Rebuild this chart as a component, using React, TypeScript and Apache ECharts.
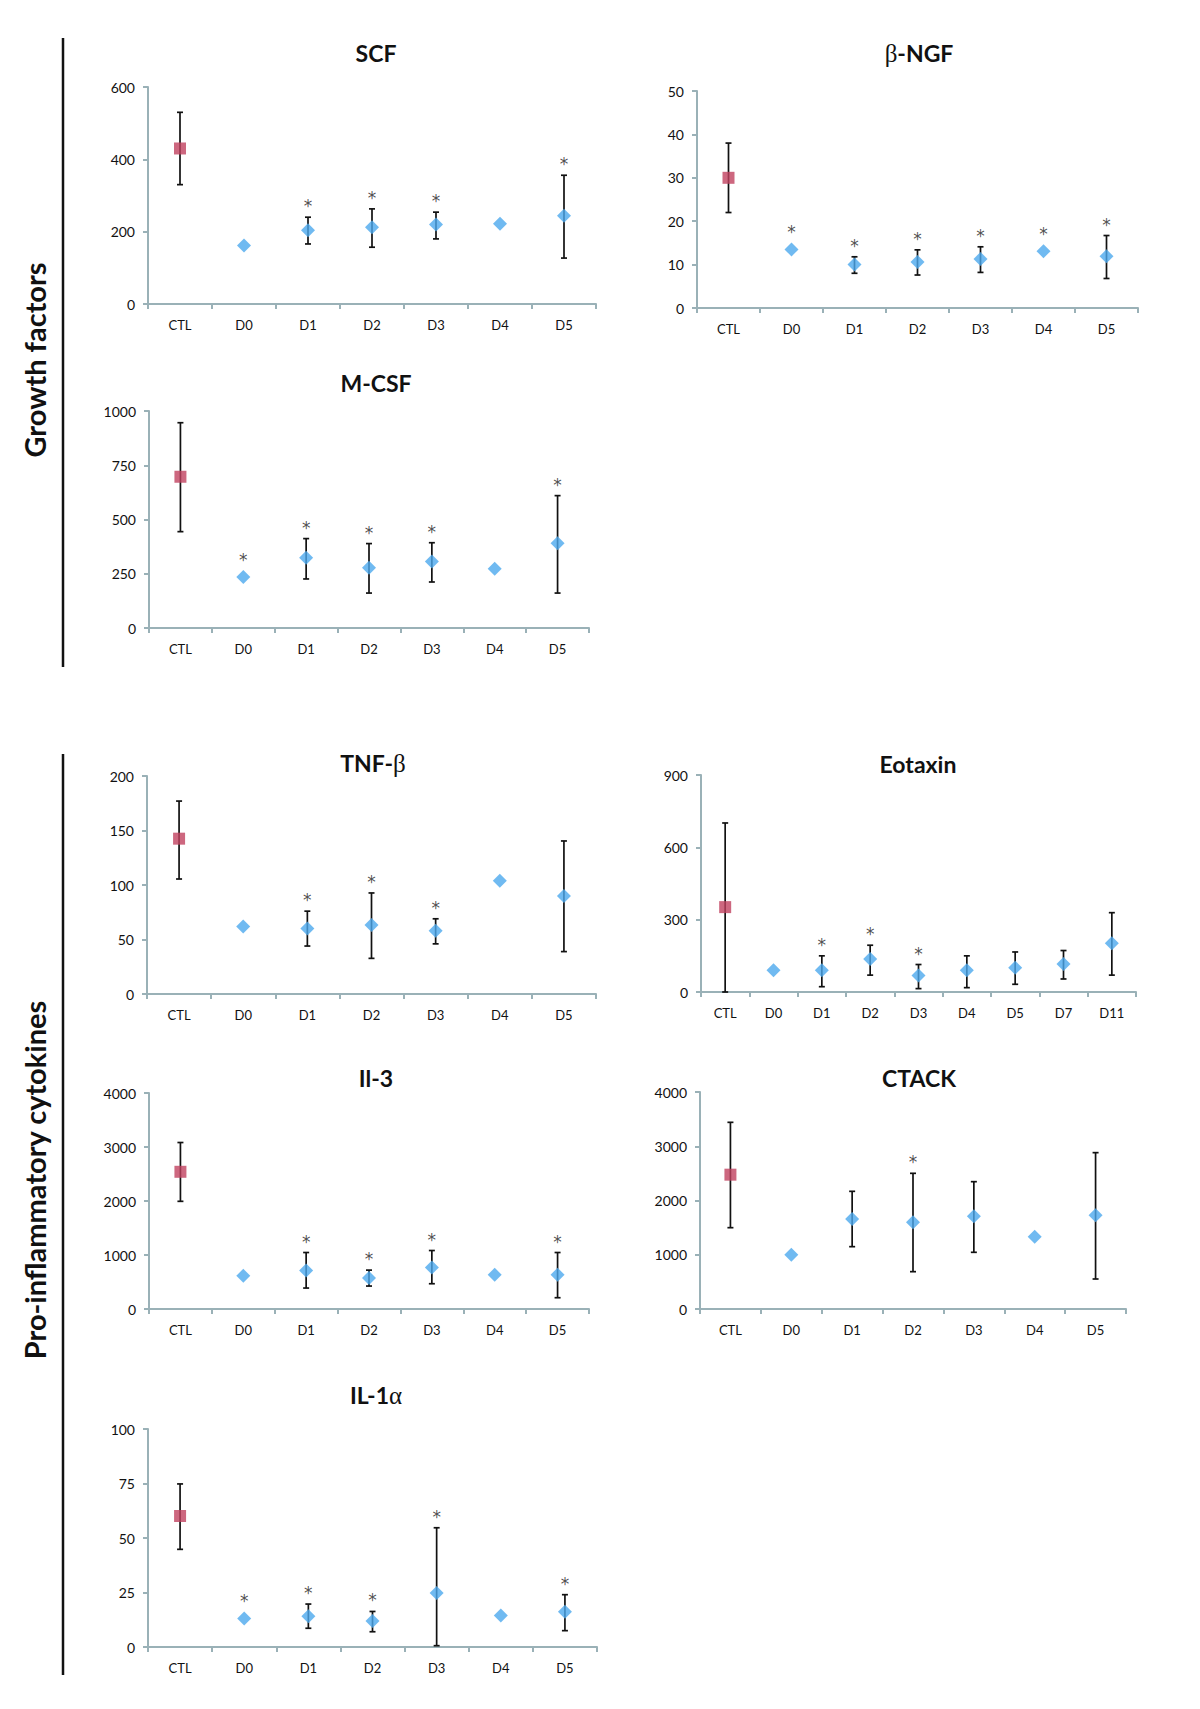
import React, { useEffect, useRef } from "react";
import * as echarts from "echarts";

// ---------- DATA ----------
const dayCategories7 = ["CTL", "D0", "D1", "D2", "D3", "D4", "D5"];
const eotaxinCategories = ["CTL", "D0", "D1", "D2", "D3", "D4", "D5", "D7", "D11"];

const scfMeans = [430, 162, 204, 212, 220, 222, 244];
const scfUpper = [530, null, 240, 263, 254, null, 356];
const scfLower = [330, null, 166, 157, 180, null, 127];
const scfStars = [false, false, true, true, true, false, true];

const ngfMeans = [30, 13.5, 10.0, 10.6, 11.3, 13.1, 11.9];
const ngfUpper = [38, null, 11.8, 13.4, 14.1, null, 16.7];
const ngfLower = [22, null, 8.0, 7.6, 8.2, null, 6.8];
const ngfStars = [false, true, true, true, true, true, true];

const mcsfMeans = [697, 235, 324, 278, 306, 273, 390];
const mcsfUpper = [946, null, 412, 389, 393, null, 610];
const mcsfLower = [444, null, 226, 161, 212, null, 161];
const mcsfStars = [false, true, true, true, true, false, true];

const tnfMeans = [142.5, 62, 60, 63.3, 58, 104, 90];
const tnfUpper = [177, null, 76, 92.7, 69, null, 140.4];
const tnfLower = [105.5, null, 44, 32.7, 46, null, 38.9];
const tnfStars = [false, false, true, true, true, false, false];

const eotaxinMeans = [352, 90, 90, 137, 68, 90, 101, 116, 202];
const eotaxinUpper = [701, null, 150, 194, 114, 150, 166, 172, 329];
const eotaxinLower = [0, null, 22, 70, 14, 18, 32, 54, 70];
const eotaxinStars = [false, false, true, true, true, false, false, false, false];

const il3Means = [2541, 615, 714, 572, 769, 634, 634];
const il3Upper = [3083, null, 1046, 720, 1083, null, 1046];
const il3Lower = [1994, null, 388, 425, 468, null, 209];
const il3Stars = [false, false, true, true, true, false, true];

const ctackMeans = [2476, 1000, 1660, 1598, 1708, 1333, 1726];
const ctackUpper = [3441, null, 2169, 2501, 2347, null, 2882];
const ctackLower = [1499, null, 1149, 688, 1045, null, 553];
const ctackStars = [false, false, false, true, false, false, false];

const il1aMeans = [60.1, 13.1, 14.1, 11.9, 24.8, 14.5, 16.2];
const il1aUpper = [74.8, null, 19.7, 16.3, 54.7, null, 24.0];
const il1aLower = [44.8, null, 8.6, 7.0, 0.6, null, 7.5];
const il1aStars = [false, true, true, true, true, false, true];

// axis ranges: [max, interval]
const scfAxis = [600, 200];
const ngfAxis = [50, 10];
const mcsfAxis = [1000, 250];
const tnfAxis = [200, 50];
const eotaxinAxis = [900, 300];
const il3Axis = [4000, 1000];
const ctackAxis = [4000, 1000];
const il1aAxis = [100, 25];

// ---------- STYLE / LAYOUT ----------
const AXIS_COLOR = "#9AB1B7";
const CTL_COLOR = "#C0415F";
const DAY_COLOR = "#4CA9EE";
const FONT = "Lato";
const GREEK_FONT = "Liberation Serif";

type Panel = {
  titleText: string;
  cats: string[];
  means: number[];
  upper: (number | null)[];
  lower: (number | null)[];
  stars: boolean[];
  axis: number[];
  box: { left: number; top: number; width: number; height: number };
  titlePos: [number, number];
};

const panels: Panel[] = [
  { titleText: "{b|SCF}", cats: dayCategories7, means: scfMeans, upper: scfUpper, lower: scfLower, stars: scfStars, axis: scfAxis,
    box: { left: 148, top: 87, width: 448, height: 217 }, titlePos: [376, 53] },
  { titleText: "{g|β}{b|-NGF}", cats: dayCategories7, means: ngfMeans, upper: ngfUpper, lower: ngfLower, stars: ngfStars, axis: ngfAxis,
    box: { left: 697, top: 91, width: 441, height: 217 }, titlePos: [919, 53] },
  { titleText: "{b|M-CSF}", cats: dayCategories7, means: mcsfMeans, upper: mcsfUpper, lower: mcsfLower, stars: mcsfStars, axis: mcsfAxis,
    box: { left: 149, top: 411, width: 440, height: 217 }, titlePos: [376, 383] },
  { titleText: "{b|TNF-}{g|β}", cats: dayCategories7, means: tnfMeans, upper: tnfUpper, lower: tnfLower, stars: tnfStars, axis: tnfAxis,
    box: { left: 147, top: 776, width: 449, height: 218 }, titlePos: [373, 763] },
  { titleText: "{b|Eotaxin}", cats: eotaxinCategories, means: eotaxinMeans, upper: eotaxinUpper, lower: eotaxinLower, stars: eotaxinStars, axis: eotaxinAxis,
    box: { left: 701, top: 775, width: 435, height: 217 }, titlePos: [918, 764] },
  { titleText: "{b|Il-3}", cats: dayCategories7, means: il3Means, upper: il3Upper, lower: il3Lower, stars: il3Stars, axis: il3Axis,
    box: { left: 149, top: 1093, width: 440, height: 216 }, titlePos: [376, 1078] },
  { titleText: "{b|CTACK}", cats: dayCategories7, means: ctackMeans, upper: ctackUpper, lower: ctackLower, stars: ctackStars, axis: ctackAxis,
    box: { left: 700, top: 1092, width: 426, height: 217 }, titlePos: [919, 1078] },
  { titleText: "{b|IL-1}{g|α}", cats: dayCategories7, means: il1aMeans, upper: il1aUpper, lower: il1aLower, stars: il1aStars, axis: il1aAxis,
    box: { left: 148, top: 1429, width: 449, height: 218 }, titlePos: [376, 1395] },
];

function buildOption() {
  const grid: any[] = [];
  const xAxis: any[] = [];
  const yAxis: any[] = [];
  const series: any[] = [];
  const graphic: any[] = [];

  panels.forEach((p, i) => {
    grid.push({ ...p.box });
    xAxis.push({
      type: "category",
      gridIndex: i,
      data: p.cats,
      boundaryGap: true,
      axisLine: { show: true, lineStyle: { color: AXIS_COLOR, width: 2 } },
      axisTick: { show: true, length: 5, lineStyle: { color: AXIS_COLOR, width: 2 } },
      axisLabel: { color: "#111", fontSize: 13, fontFamily: FONT, margin: 14, interval: 0 },
      splitLine: { show: false },
    });
    yAxis.push({
      type: "value",
      gridIndex: i,
      min: 0,
      max: p.axis[0],
      interval: p.axis[1],
      axisLine: { show: true, lineStyle: { color: AXIS_COLOR, width: 2 } },
      axisTick: { show: true, length: 5, lineStyle: { color: AXIS_COLOR, width: 2 } },
      axisLabel: {
        color: "#111",
        fontSize: 14,
        fontFamily: FONT,
        margin: 13,
        formatter: (v: number) => String(v),
      },
      splitLine: { show: false },
    });

    const errData: any[] = [];
    p.means.forEach((_, k) => {
      if (p.upper[k] != null && p.lower[k] != null) errData.push([k, p.upper[k], p.lower[k]]);
    });
    series.push({
      type: "custom",
      xAxisIndex: i,
      yAxisIndex: i,
      z: 2,
      encode: { x: 0, y: [1, 2] },
      data: errData,
      renderItem: (params: any, api: any) => {
        const x = api.value(0);
        const top = api.coord([x, api.value(1)]);
        const bot = api.coord([x, api.value(2)]);
        const w = 3;
        const st = { stroke: "#111", lineWidth: 1.7 };
        return {
          type: "group",
          children: [
            { type: "line", shape: { x1: top[0], y1: top[1], x2: bot[0], y2: bot[1] }, style: st },
            { type: "line", shape: { x1: top[0] - w, y1: top[1], x2: top[0] + w, y2: top[1] }, style: st },
            { type: "line", shape: { x1: bot[0] - w, y1: bot[1], x2: bot[0] + w, y2: bot[1] }, style: st },
          ],
        };
      },
    });

    series.push({
      type: "scatter",
      xAxisIndex: i,
      yAxisIndex: i,
      z: 5,
      symbol: "rect",
      symbolSize: 12,
      itemStyle: { color: CTL_COLOR },
      data: [[0, p.means[0]]],
    });
    series.push({
      type: "scatter",
      xAxisIndex: i,
      yAxisIndex: i,
      z: 5,
      symbol: "diamond",
      symbolSize: 14,
      itemStyle: { color: DAY_COLOR },
      data: p.means.slice(1).map((v, k) => [k + 1, v]),
    });

    const starData: any[] = [];
    p.stars.forEach((s, k) => {
      if (!s) return;
      const hasErr = p.upper[k] != null;
      starData.push({
        value: [k, hasErr ? p.upper[k] : p.means[k]],
        label: { distance: hasErr ? 2 : 8 },
      });
    });
    series.push({
      type: "scatter",
      xAxisIndex: i,
      yAxisIndex: i,
      z: 6,
      symbol: "circle",
      symbolSize: 1,
      silent: true,
      itemStyle: { color: "rgba(0,0,0,0)" },
      label: {
        show: true,
        position: "top",
        formatter: "*",
        fontSize: 17,
        fontFamily: "DejaVu Sans",
        color: "#222",
      },
      data: starData,
    });

    graphic.push({
      type: "text",
      x: p.titlePos[0],
      y: p.titlePos[1],
      style: {
        text: p.titleText,
        align: "center",
        verticalAlign: "middle",
        rich: {
          b: { fontFamily: FONT, fontWeight: "bold", fontSize: 23, fill: "#111", color: "#111" },
          g: { fontFamily: GREEK_FONT, fontWeight: "normal", fontSize: 25, fill: "#111", color: "#111" },
        },
      },
    });
  });

  // side group labels and lines
  graphic.push(
    { type: "line", shape: { x1: 63, y1: 38, x2: 63, y2: 667 }, style: { stroke: "#111", lineWidth: 2.5 } },
    { type: "line", shape: { x1: 63, y1: 754, x2: 63, y2: 1675 }, style: { stroke: "#111", lineWidth: 2.5 } },
    {
      type: "text",
      x: 34,
      y: 360,
      rotation: Math.PI / 2,
      style: {
        text: "Growth factors",
        align: "center",
        verticalAlign: "middle",
        fontFamily: FONT,
        fontWeight: "bold",
        fontSize: 29,
        fill: "#111",
      },
    },
    {
      type: "text",
      x: 34,
      y: 1180,
      rotation: Math.PI / 2,
      style: {
        text: "Pro-inflammatory cytokines",
        align: "center",
        verticalAlign: "middle",
        fontFamily: FONT,
        fontWeight: "bold",
        fontSize: 29,
        fill: "#111",
      },
    }
  );

  return {
    animation: false,
    backgroundColor: "#ffffff",
    grid,
    xAxis,
    yAxis,
    series,
    graphic,
  };
}

export default function App() {
  const ref = useRef<HTMLDivElement>(null);
  useEffect(() => {
    if (!ref.current) return;
    const chart = echarts.init(ref.current, undefined, { renderer: "svg" });
    chart.setOption(buildOption() as any);
    return () => chart.dispose();
  }, []);
  return (
    <div
      ref={ref}
      style={{ position: "absolute", left: 0, top: 0, width: 1200, height: 1709, background: "#fff" }}
    />
  );
}
